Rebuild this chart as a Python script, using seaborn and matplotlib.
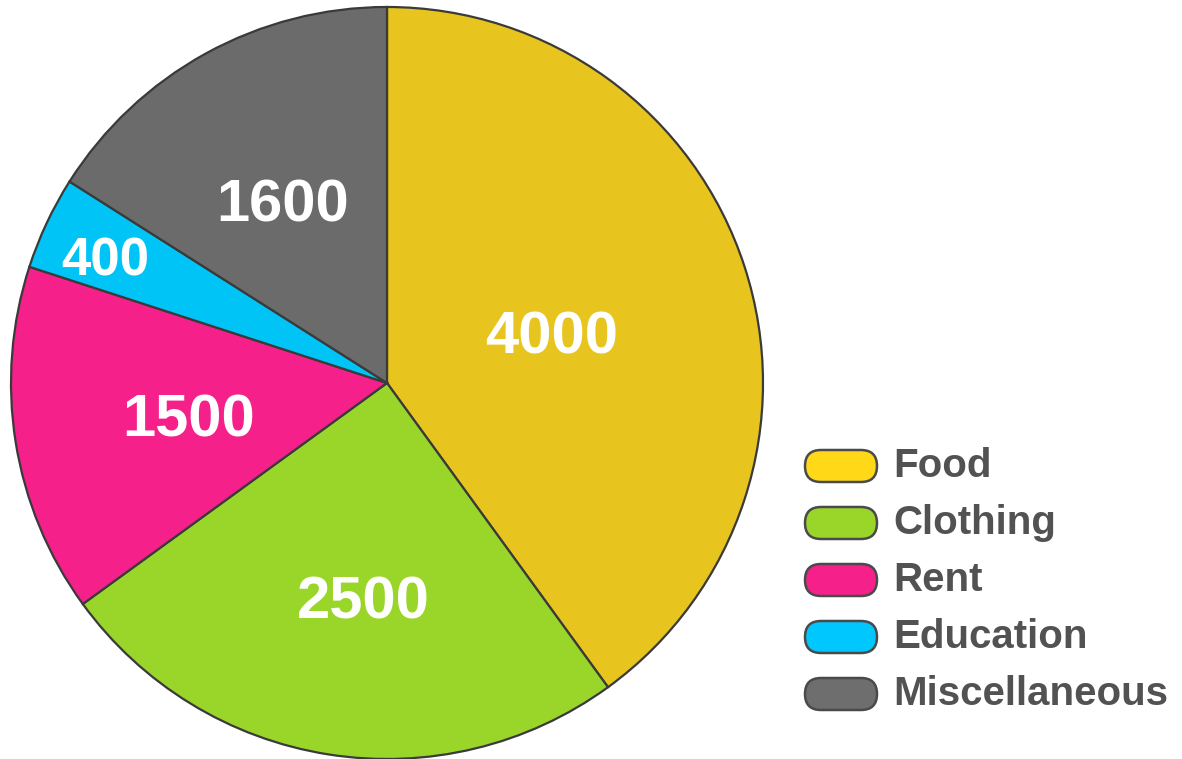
import matplotlib
matplotlib.use("Agg")
import matplotlib.pyplot as plt
from matplotlib.patches import FancyBboxPatch
import numpy as np
import seaborn as sns

sns.set_theme(style="white")
plt.rcParams["font.family"] = ["Liberation Sans", "DejaVu Sans"]

# Monthly household expenses
categories = ["Food", "Clothing", "Rent", "Education", "Miscellaneous"]
values = [4000, 2500, 1500, 400, 1600]
slice_colors = ["#E8C51E", "#9AD62A", "#F5208A", "#00C4F5", "#6B6B6B"]
legend_colors = ["#FFD918", "#9AD62A", "#F5208A", "#00C8FF", "#6E6E6E"]

# value label placement: fraction of radius and angular nudge from the wedge middle
label_radius = [0.465, 0.554, 0.531, 0.831, 0.576]
label_nudge = [1.4, 2.4, -1.8, -0.4, 0.0]
label_size = [43, 43, 43, 38, 43]

W, H = 1182, 759
fig = plt.figure(figsize=(W / 100, H / 100), dpi=100)

cx, cy, r = 387, 383, 376
ax = fig.add_axes([(cx - r) / W, (H - cy - r) / H, 2 * r / W, 2 * r / H])
wedges, _ = ax.pie(values, colors=slice_colors, startangle=90, counterclock=False,
                   radius=1.0,
                   wedgeprops=dict(edgecolor="#3a3a3a", linewidth=1.6))
ax.set_xlim(-1.0, 1.0)
ax.set_ylim(-1.0, 1.0)
ax.set_aspect("equal")
ax.axis("off")

total = sum(values)
start = 90.0
for v, rf, nd, fs in zip(values, label_radius, label_nudge, label_size):
    sweep = 360.0 * v / total
    mid = np.deg2rad(start - sweep / 2 + nd)
    ax.annotate(f"{v}", xy=(rf * np.cos(mid), rf * np.sin(mid)),
                xytext=(0, -9.5), textcoords="offset points",
                ha="center", va="center",
                color="white", fontsize=fs, fontweight="bold")
    start -= sweep

# legend with pill-shaped swatches
lax = fig.add_axes([0, 0, 1, 1])
lax.set_xlim(0, W)
lax.set_ylim(H, 0)
lax.axis("off")
row_y = [466, 523, 580, 637, 694]
for name, col, y in zip(categories, legend_colors, row_y):
    pill = FancyBboxPatch((805, y - 16), 72, 32,
                          boxstyle="round,pad=0,rounding_size=16",
                          facecolor=col, edgecolor="#4a4a4a", linewidth=1.8)
    lax.add_patch(pill)
    lax.text(893, y, name, ha="left", va="center", color="#525252",
             fontsize=29, fontweight="bold")

fig.savefig("out.png", dpi=100, facecolor="white")
